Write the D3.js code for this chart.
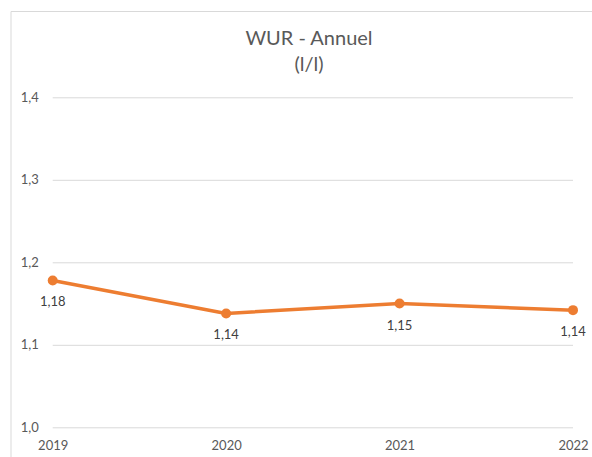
<!DOCTYPE html>
<html><head><meta charset="utf-8">
<script src="https://cdn.jsdelivr.net/npm/d3@7"></script>
<style>body{margin:0;background:#fff;}svg{display:block;font-family:Lato,"Open Sans",sans-serif;}</style>
</head><body><svg id="c" width="592" height="457"></svg>
<script>
const years = ["2019","2020","2021","2022"];
const values = [1.178, 1.138, 1.150, 1.142];
const labels = ["1,18","1,14","1,15","1,14"];
const yTicks = [1.0, 1.1, 1.2, 1.3, 1.4];
const titleLines = ["WUR - Annuel","(l/l)"];

const svg = d3.select("#c");
// chart area border
svg.append("path").attr("d","M11,457V11.5H592").attr("fill","none").attr("stroke","#d9d9d9").attr("stroke-width",1);

const x = d3.scalePoint().domain(years).range([52.7, 573]);
const y = d3.scaleLinear().domain([1.0, 1.4]).range([427.3, 97.3]);
const fmt = d => d.toFixed(1).replace(".", ",");

// gridlines + y labels
const yAxis = d3.axisLeft(y).tickValues(yTicks).tickFormat(fmt).tickSize(-(573-52.7)).tickPadding(14);
const gy = svg.append("g").attr("transform","translate(52.7,0)").call(yAxis);
gy.select(".domain").remove();
gy.selectAll(".tick line").attr("stroke","#d9d9d9").attr("stroke-width",1);
gy.selectAll(".tick text").attr("fill","#595959").style("font-size","13px").style("font-family","Lato,'Open Sans',sans-serif");

// x labels
const xAxis = d3.axisBottom(x).tickSize(0).tickPadding(13);
const gx = svg.append("g").attr("transform","translate(0,427.3)").call(xAxis);
gx.select(".domain").remove();
gx.selectAll(".tick text").attr("fill","#595959").style("font-size","13px").style("font-family","Lato,'Open Sans',sans-serif");

// line
const line = d3.line().x((d,i)=>x(years[i])).y(d=>y(d));
svg.append("path").datum(values).attr("d",line).attr("fill","none").attr("stroke","#ED7D31").attr("stroke-width",3.5).attr("stroke-linejoin","round");
svg.selectAll("circle.m").data(values).join("circle").attr("class","m")
  .attr("cx",(d,i)=>x(years[i])).attr("cy",d=>y(d)).attr("r",5).attr("fill","#ED7D31");

// data labels
svg.selectAll("text.dl").data(values).join("text").attr("class","dl")
  .attr("x",(d,i)=>x(years[i])).attr("y",d=>y(d)+26)
  .attr("text-anchor","middle").attr("fill","#404040").style("font-size","13px")
  .text((d,i)=>labels[i]);

// title
svg.selectAll("text.t").data(titleLines).join("text").attr("class","t")
  .attr("x",309).attr("y",(d,i)=>45+i*26).attr("text-anchor","middle")
  .attr("fill","#595959").style("font-size","20px").text(d=>d);
</script></body></html>
